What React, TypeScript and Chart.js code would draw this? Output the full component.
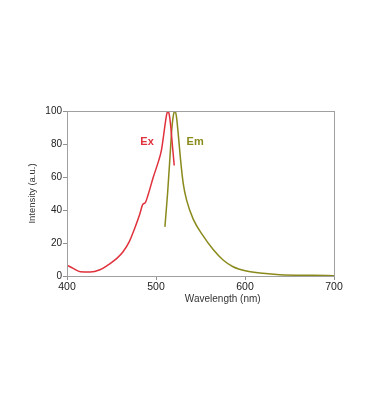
import React, { useEffect, useRef } from "react";
import { Chart, registerables } from "chart.js";

Chart.register(...registerables);

const exWavelength = [400, 407, 415, 426, 437, 445, 456, 463, 470, 476, 482, 485, 488, 491, 497, 502.5, 506, 508.5, 510.5, 512, 513.5, 515, 516.5, 518.3, 520.5];
const exIntensity = [6.6, 4.6, 2.6, 2.4, 3.8, 6.3, 10.7, 14.7, 20.8, 28.8, 37.9, 43.3, 44.5, 49, 60, 69, 76, 85, 93, 98, 100, 97.5, 91, 80, 67];

const emWavelength = [510, 513, 515.7, 517.6, 519, 520.5, 521.5, 523, 525, 527.5, 530.6, 534.4, 541.8, 553, 564, 575.4, 586.6, 601.5, 620, 639, 676, 700];
const emIntensity = [29.8, 50, 72, 88, 95.5, 99.5, 100, 96.5, 86, 71, 56, 46, 34.5, 24.3, 16.2, 9.7, 5.6, 3, 1.6, 0.8, 0.4, 0.2];

const xTicks = [400, 500, 600, 700];
const yTicks = [0, 20, 40, 60, 80, 100];

const xTitle = "Wavelength (nm)";
const yTitle = "Intensity (a.u.)";

const seriesLabels = [
  { text: "Ex", x: 490, y: 81, color: "#e0313c" },
  { text: "Em", x: 544, y: 81, color: "#8a8a1c" },
];

const FONT = "'Liberation Sans', Arial, sans-serif";

const overlayPlugin = {
  id: "overlay",
  afterDatasetsDraw(chart: any) {
    const { ctx, chartArea, scales } = chart;
    ctx.save();
    ctx.strokeStyle = "#a0a0a0";
    ctx.lineWidth = 1;
    ctx.strokeRect(
      Math.round(chartArea.left) + 0.5,
      Math.round(chartArea.top) + 0.5,
      Math.round(chartArea.right - chartArea.left),
      Math.round(chartArea.bottom - chartArea.top)
    );
    ctx.font = `bold 11px ${FONT}`;
    ctx.textAlign = "center";
    ctx.textBaseline = "middle";
    for (const l of seriesLabels) {
      ctx.fillStyle = l.color;
      ctx.fillText(l.text, scales.x.getPixelForValue(l.x), scales.y.getPixelForValue(l.y));
    }
    // x-axis title, offset to the right as in the original figure
    ctx.font = `10px ${FONT}`;
    ctx.fillStyle = "#333";
    ctx.fillText(xTitle, scales.x.getPixelForValue(575), chartArea.bottom + 23);
    ctx.restore();
  },
};

export default function App() {
  const ref = useRef<HTMLCanvasElement | null>(null);
  useEffect(() => {
    if (!ref.current) return;
    const chart = new Chart(ref.current, {
      type: "line",
      data: {
        datasets: [
          {
            label: "Ex",
            data: exWavelength.map((x, i) => ({ x, y: exIntensity[i] })),
            borderColor: "#e0313c",
            borderWidth: 1.5,
            pointRadius: 0,
            cubicInterpolationMode: "monotone",
            fill: false,
          },
          {
            label: "Em",
            data: emWavelength.map((x, i) => ({ x, y: emIntensity[i] })),
            borderColor: "#8a8a1c",
            borderWidth: 1.5,
            pointRadius: 0,
            cubicInterpolationMode: "monotone",
            fill: false,
          },
        ],
      },
      options: {
        animation: false,
        responsive: false,
        maintainAspectRatio: false,
        layout: { padding: { left: 27, top: 111, right: 34, bottom: 109 } },
        plugins: { legend: { display: false }, tooltip: { enabled: false } },
        scales: {
          x: {
            type: "linear",
            min: 400,
            max: 700,
            afterBuildTicks: (s: any) => {
              s.ticks = xTicks.map((v) => ({ value: v }));
            },
            afterFit: (s: any) => {
              s.height = 28;
            },
            grid: { display: true, drawOnChartArea: false, drawTicks: true, tickLength: 4, color: "#909090" },
            border: { display: true, color: "#a0a0a0" },
            ticks: { padding: 1, color: "#222", font: { size: 10.5, family: FONT } },
            title: { display: false },
          },
          y: {
            min: 0,
            max: 100,
            afterBuildTicks: (s: any) => {
              s.ticks = yTicks.map((v) => ({ value: v }));
            },
            afterFit: (s: any) => {
              s.width = 40;
            },
            grid: { display: true, drawOnChartArea: false, drawTicks: true, tickLength: 4, color: "#909090" },
            border: { display: true, color: "#a0a0a0" },
            ticks: { padding: 1, color: "#222", font: { size: 10, family: FONT } },
            title: {
              display: true,
              text: yTitle,
              color: "#333",
              padding: { top: 0, bottom: 0 },
              font: { size: 9.5, family: FONT },
            },
          },
        },
      },
      plugins: [overlayPlugin],
    } as any);
    return () => chart.destroy();
  }, []);
  return (
    <div style={{ position: "absolute", left: 0, top: 0, width: 368, height: 413, background: "#fff" }}>
      <canvas ref={ref} width={368} height={413} style={{ width: 368, height: 413, display: "block" }} />
    </div>
  );
}
